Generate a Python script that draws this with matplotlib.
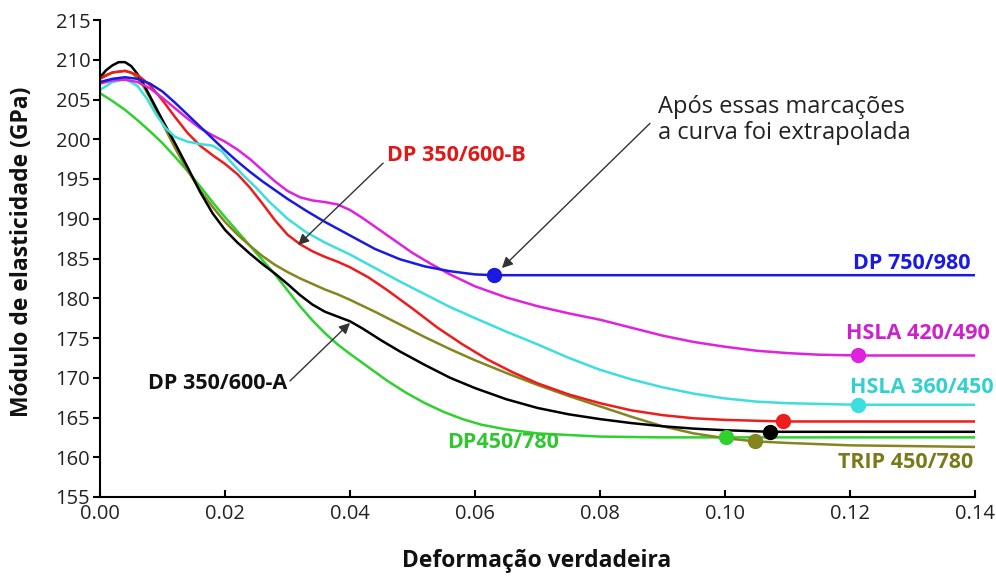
import matplotlib
matplotlib.use("Agg")
import matplotlib.pyplot as plt

plt.rcParams['font.family'] = ['Open Sans', 'DejaVu Sans']

# ---- data ----
blue_x = [0.0, 0.002, 0.004, 0.006, 0.008, 0.010, 0.012, 0.014, 0.016, 0.018, 0.020, 0.022, 0.024, 0.026, 0.028, 0.030,
          0.033, 0.036, 0.040, 0.044, 0.048, 0.052, 0.056, 0.060, 0.063, 0.140]
blue_y = [207.2, 207.6, 207.8, 207.6, 207.0, 206.0, 204.6, 203.1, 201.6, 200.1, 198.6, 197.2, 195.9, 194.7, 193.6, 192.5,
          191.0, 189.6, 187.9, 186.2, 184.9, 184.0, 183.4, 183.0, 182.9, 182.9]
blue_end = (0.063, 182.9)

mag_x = [0.0, 0.002, 0.004, 0.006, 0.008, 0.010, 0.012, 0.014, 0.016, 0.018, 0.020, 0.022, 0.024, 0.026, 0.028, 0.030,
         0.032, 0.034, 0.036, 0.038, 0.040, 0.042, 0.044, 0.046, 0.048, 0.050, 0.053, 0.056, 0.060, 0.065, 0.070,
         0.075, 0.080, 0.085, 0.090, 0.095, 0.100, 0.105, 0.110, 0.115, 0.1213, 0.140]
mag_y = [207.0, 207.4, 207.5, 207.2, 206.4, 205.2, 203.9, 202.6, 201.4, 200.5, 199.7, 198.7, 197.5, 196.1, 194.7, 193.5,
         192.7, 192.3, 192.1, 191.8, 191.1, 190.1, 189.0, 187.9, 186.8, 185.7, 184.3, 183.0, 181.5, 180.1, 179.0,
         178.1, 177.3, 176.3, 175.3, 174.5, 173.9, 173.4, 173.1, 172.9, 172.8, 172.8]
mag_end = (0.1213, 172.8)

cyan_x = [0.0, 0.002, 0.004, 0.006, 0.0075, 0.009, 0.0105, 0.012, 0.014, 0.016, 0.018, 0.0195, 0.021, 0.023, 0.025,
          0.027, 0.030, 0.033, 0.036, 0.040, 0.044, 0.048, 0.052, 0.056, 0.060, 0.065, 0.070, 0.075, 0.080, 0.085,
          0.090, 0.095, 0.100, 0.105, 0.110, 0.1213, 0.140]
cyan_y = [206.2, 207.2, 207.6, 206.7, 205.1, 203.1, 201.4, 200.3, 199.7, 199.4, 199.2, 198.5, 197.1, 195.4, 193.9,
          192.2, 190.0, 188.3, 187.0, 185.5, 183.8, 182.1, 180.5, 178.9, 177.5, 175.8, 174.2, 172.5, 171.0, 169.8,
          168.8, 168.0, 167.4, 167.0, 166.8, 166.6, 166.6]
cyan_end = (0.1213, 166.6)

red_x = [0.0, 0.002, 0.004, 0.006, 0.008, 0.010, 0.012, 0.014, 0.016, 0.018, 0.020, 0.022, 0.024, 0.026, 0.028, 0.030,
         0.032, 0.034, 0.036, 0.038, 0.040, 0.043, 0.046, 0.050, 0.054, 0.058, 0.062, 0.066, 0.070, 0.075, 0.080,
         0.085, 0.090, 0.095, 0.100, 0.1093, 0.140]
red_y = [207.6, 208.4, 208.6, 208.1, 206.8, 204.9, 202.8, 200.8, 199.2, 198.0, 196.9, 195.6, 193.9, 191.9, 189.8, 188.0,
         186.8, 185.9, 185.2, 184.6, 183.9, 182.6, 181.0, 178.7, 176.3, 174.2, 172.3, 170.7, 169.3, 167.9, 166.8,
         165.9, 165.3, 164.9, 164.7, 164.5, 164.5]
red_end = (0.1093, 164.5)

black_x = [0.0, 0.001, 0.002, 0.003, 0.004, 0.005, 0.006, 0.007, 0.008, 0.009, 0.010, 0.012, 0.014, 0.016, 0.018,
           0.020, 0.022, 0.024, 0.026, 0.028, 0.030, 0.032, 0.034, 0.036, 0.038, 0.040, 0.042, 0.045, 0.048, 0.052,
           0.056, 0.060, 0.065, 0.070, 0.075, 0.080, 0.085, 0.090, 0.095, 0.100, 0.1072, 0.140]
black_y = [207.8, 208.7, 209.3, 209.7, 209.7, 209.2, 208.2, 206.9, 205.4, 203.9, 202.4, 199.5, 196.5, 193.4, 190.7,
           188.6, 187.0, 185.6, 184.3, 183.1, 181.8, 180.4, 179.2, 178.3, 177.7, 177.1, 176.2, 174.7, 173.3, 171.6,
           170.0, 168.7, 167.3, 166.2, 165.4, 164.8, 164.3, 163.9, 163.6, 163.4, 163.2, 163.2]
black_end = (0.1072, 163.2)

olive_x = [0.0, 0.002, 0.004, 0.005, 0.006, 0.007, 0.008, 0.009, 0.010, 0.012, 0.014, 0.016, 0.018, 0.020, 0.022,
           0.024, 0.026, 0.028, 0.030, 0.032, 0.034, 0.036, 0.038, 0.040, 0.044, 0.048, 0.052, 0.056, 0.060, 0.065,
           0.070, 0.075, 0.080, 0.085, 0.090, 0.095, 0.100, 0.1048, 0.110, 0.120, 0.140]
olive_y = [207.8, 208.4, 208.6, 208.4, 207.7, 206.6, 205.2, 203.6, 202.0, 198.9, 196.1, 193.6, 191.5, 189.6, 188.0,
           186.6, 185.3, 184.2, 183.3, 182.5, 181.8, 181.1, 180.5, 179.8, 178.3, 176.7, 175.1, 173.6, 172.2, 170.6,
           169.1, 167.7, 166.4, 165.1, 163.9, 163.0, 162.4, 162.0, 161.8, 161.5, 161.3]
olive_end = (0.1048, 162.0)

green_x = [0.0, 0.002, 0.004, 0.006, 0.008, 0.010, 0.012, 0.014, 0.016, 0.018, 0.020, 0.022, 0.024, 0.026, 0.028,
           0.030, 0.032, 0.034, 0.036, 0.038, 0.040, 0.043, 0.046, 0.049, 0.052, 0.055, 0.058, 0.061, 0.065, 0.070,
           0.075, 0.080, 0.090, 0.1002, 0.140]
green_y = [205.8, 204.8, 203.7, 202.4, 201.0, 199.5, 197.8, 196.0, 194.1, 192.1, 190.2, 188.4, 186.6, 184.8, 183.0,
           181.0, 179.0, 177.2, 175.6, 174.2, 173.0, 171.3, 169.6, 168.1, 166.8, 165.7, 164.8, 164.1, 163.5, 163.0,
           162.8, 162.6, 162.5, 162.5, 162.5]
green_end = (0.1002, 162.5)

x_ticks = [0.00, 0.02, 0.04, 0.06, 0.08, 0.10, 0.12, 0.14]
x_ticklabels = ["0.00", "0.02", "0.04", "0.06", "0.08", "0.10", "0.12", "0.14"]
y_ticks = [155, 160, 165, 170, 175, 180, 185, 190, 195, 200, 205, 210, 215]

# ---- figure ----
W, H = 996, 578
fig = plt.figure(figsize=(W / 100, H / 100), dpi=100)
ax = fig.add_axes([100 / W, 1 - 497 / H, 875 / W, 477 / H])

series = [
    (green_x, green_y, green_end, "#2ed12e"),
    (olive_x, olive_y, olive_end, "#85851f"),
    (black_x, black_y, black_end, "#000000"),
    (red_x, red_y, red_end, "#ee1c1c"),
    (cyan_x, cyan_y, cyan_end, "#3ddede"),
    (mag_x, mag_y, mag_end, "#de22de"),
    (blue_x, blue_y, blue_end, "#1a1ae0"),
]
for xs, ys, end, c in series:
    ax.plot(xs, ys, color=c, lw=1.8, solid_joinstyle='round', solid_capstyle='round', zorder=2)
    ax.plot([end[0]], [end[1]], 'o', color=c, ms=10, zorder=4)

ax.set_xlim(0, 0.14)
ax.set_ylim(155, 215)
ax.set_xticks(x_ticks)
ax.set_xticklabels(x_ticklabels)
ax.set_yticks(y_ticks)

for s in ['top', 'right']:
    ax.spines[s].set_visible(False)
for s in ['left', 'bottom']:
    ax.spines[s].set_linewidth(1.5)
ax.tick_params(axis='y', direction='out', length=5, width=1.5, labelsize=14.5, pad=2, colors='black', labelcolor='#222222')
ax.tick_params(axis='x', direction='in', length=5, width=1.5, labelsize=14.5, pad=5, colors='black', labelcolor='#222222')

fig.text(22 / W, 1 - 252 / H, "Módulo de elasticidade (GPa)", rotation=90, fontsize=16.5,
         fontweight='bold', ha='center', va='center', color='#111111')
fig.text(537 / W, 1 - 561 / H, "Deformação verdadeira", fontsize=16.5,
         fontweight='bold', ha='center', va='center', color='#111111')

lab_kw = dict(fontsize=15.5, fontweight='bold', clip_on=False)
ax.text(0.1392, 184.4, "DP 750/980", color="#1a1ae0", ha='right', va='center', **lab_kw)
ax.text(0.1424, 175.6, "HSLA 420/490", color="#cc22cc", ha='right', va='center', **lab_kw)
ax.text(0.1429, 168.8, "HSLA 360/450", color="#33d0d0", ha='right', va='center', **lab_kw)
ax.text(0.1397, 159.3, "TRIP 450/780", color="#7a7a1a", ha='right', va='center', **lab_kw)
ax.text(0.0645, 161.8, "DP450/780", color="#2ec82e", ha='center', va='center', **lab_kw)
ax.text(0.0299, 169.3, "DP 350/600-A", color="#111111", ha='right', va='center', **lab_kw)
ax.text(0.0459, 198.0, "DP 350/600-B", color="#e01818", ha='left', va='center', **lab_kw)

ax.text(0.0893, 202.4, "Após essas marcações\na curva foi extrapolada", color="#222222",
        ha='left', va='center', fontsize=17, linespacing=1.1)

arrow_kw = dict(arrowstyle='-|>', color='#333333', lw=1.0, mutation_scale=16,
                shrinkA=0, shrinkB=0)
ax.annotate("", xy=(0.0643, 183.8), xytext=(0.0880, 202.0), arrowprops=arrow_kw, zorder=5)
ax.annotate("", xy=(0.0317, 186.7), xytext=(0.0453, 197.0), arrowprops=arrow_kw, zorder=5)
ax.annotate("", xy=(0.0400, 176.9), xytext=(0.0304, 169.6), arrowprops=arrow_kw, zorder=5)

fig.savefig("out.png", dpi=100)
